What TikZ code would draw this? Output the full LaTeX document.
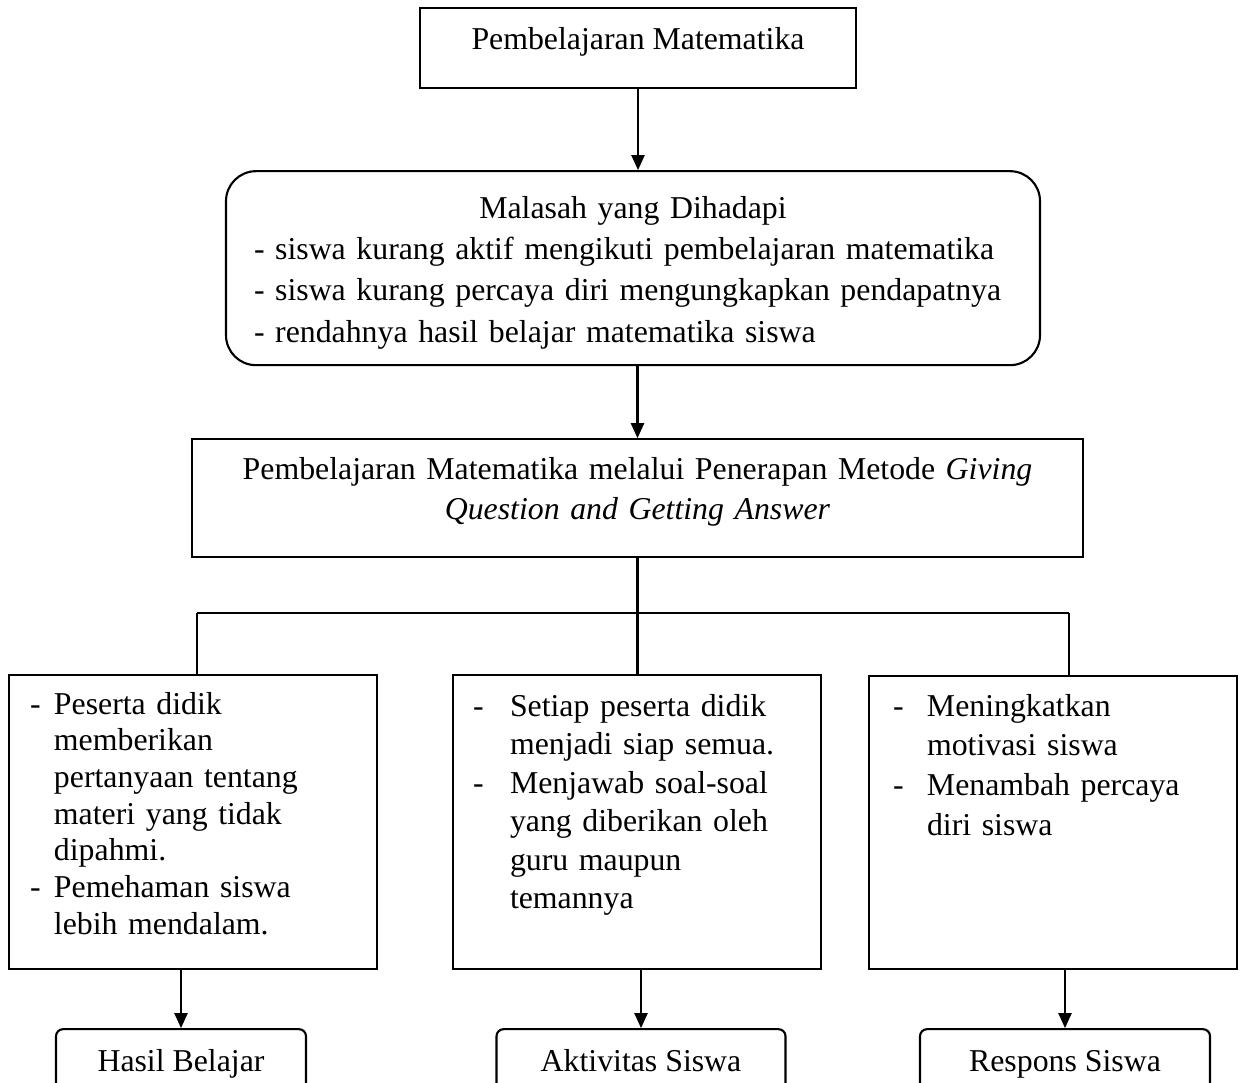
\documentclass[tikz,border=0pt]{standalone}
\usepackage{fontspec}
\setmainfont{Liberation Serif}
\usepackage{tikz}
\usetikzlibrary{arrows.meta,positioning}
\tikzset{>={Triangle[length=0.3cm,width=0.26cm]}}
\tikzstyle{kotak} = [draw, line width=1.2pt, inner ysep=0pt,
    font=\fontsize{18.1}{23.5}\selectfont]
\tikzstyle{bulat} = [kotak, rounded corners=0.6cm]
\tikzstyle{aspek} = [kotak, text width=6.52cm, inner xsep=0.42cm, align=left,
    anchor=north, text height=0.8cm, text depth=5.06cm]
\tikzstyle{hasil} = [kotak, rounded corners=0.14cm, text height=0.84cm,
    text depth=0.64cm]
\tikzstyle{garis} = [line width=1.3pt]
\newcommand{\butir}[2]{\hangindent=#1\hangafter=1\noindent\makebox[#1][l]{-}#2\par}

\begin{document}
\begin{tikzpicture}
    \useasboundingbox (0,0) rectangle (24.92,-21.64);
    \clip (0,0) rectangle (24.92,-21.64);
    % alur utama
    \node [kotak, anchor=north, minimum width=8.72cm, text height=0.82cm,
        text depth=0.78cm] (pm) at (12.76,-0.14) {Pembelajaran Matematika};
    \node [bulat, below=1.62cm of pm, xshift=-0.1cm, text width=15.16cm,
        inner xsep=0.56cm, align=left, text height=0.94cm, text depth=2.94cm,
        font=\fontsize{18.1}{23.53}\selectfont] (masalah)
        {\makebox[\linewidth][c]{Malasah yang Dihadapi}\\
         - siswa kurang aktif mengikuti pembelajaran matematika\\
         - siswa kurang percaya diri mengungkapkan pendapatnya\\
         - rendahnya hasil belajar matematika siswa};
    \node [kotak, below=1.44cm of masalah, xshift=0.09cm, text width=16.8cm,
        inner xsep=0.51cm, align=center, text height=0.8cm, text depth=1.56cm,
        font=\fontsize{18.1}{22.68}\selectfont] (metode)
        {Pembelajaran Matematika melalui Penerapan Metode \textit{Giving}\\
         \textit{Question and Getting Answer}};
    % tiga aspek
    \node [aspek, text height=0.78cm, text depth=5.10cm,
        font=\fontsize{18.1}{20.86}\selectfont] (kiri) at (3.86,-13.48)
        {\butir{0.48cm}{Peserta didik\newline memberikan\newline pertanyaan tentang\newline
         materi yang tidak\newline dipahmi.}\butir{0.48cm}{Pemehaman siswa\newline
         lebih mendalam.}};
    \node [aspek, text width=6.56cm, inner xsep=0.40cm, text height=0.82cm,
        font=\fontsize{18.1}{21.9}\selectfont] (tengah) at (12.74,-13.48)
        {\butir{0.74cm}{Setiap peserta didik\newline menjadi siap semua.}\butir{0.74cm}{Menjawab
         soal-soal\newline yang diberikan oleh\newline guru maupun\newline temannya}};
    \node [aspek, text width=6.40cm, inner xsep=0.48cm,
        font=\fontsize{18.1}{22.68}\selectfont] (kanan) at (21.06,-13.50)
        {\butir{0.68cm}{Meningkatkan\newline motivasi siswa}\butir{0.68cm}{Menambah
         percaya\newline diri siswa}};
    % kotak hasil
    \node [hasil, below=1.16cm of kiri, xshift=-0.24cm, minimum width=5.0cm] (belajar)
        {Hasil Belajar};
    \node [hasil, below=1.16cm of tengah, xshift=0.08cm, minimum width=5.78cm] (aktivitas)
        {Aktivitas Siswa};
    \node [hasil, below=1.16cm of kanan, xshift=0.24cm, minimum width=5.8cm] (respons)
        {Respons Siswa};
    % percabangan
    \coordinate (cabang) at ([yshift=-1.22cm]metode.south);
    \coordinate (ujungkiri) at (3.94,-12.26);
    \coordinate (ujungkanan) at (21.38,-12.26);
    \draw [garis,->] (pm.south) -- (pm.south |- masalah.north);
    \draw [garis,->] (metode.north |- masalah.south) -- (metode.north);
    \draw [garis] (metode.south) -- (cabang);
    \draw [garis] (ujungkiri) -- (ujungkanan);
    \draw [garis] (ujungkiri) -- (ujungkiri |- kiri.north);
    \draw [garis] (cabang) -- (cabang |- tengah.north);
    \draw [garis] (ujungkanan) -- (ujungkanan |- kanan.north);
    \draw [garis,->] (belajar.north |- kiri.south) -- (belajar.north);
    \draw [garis,->] (aktivitas.north |- tengah.south) -- (aktivitas.north);
    \draw [garis,->] (respons.north |- kanan.south) -- (respons.north);
\end{tikzpicture}
\end{document}
